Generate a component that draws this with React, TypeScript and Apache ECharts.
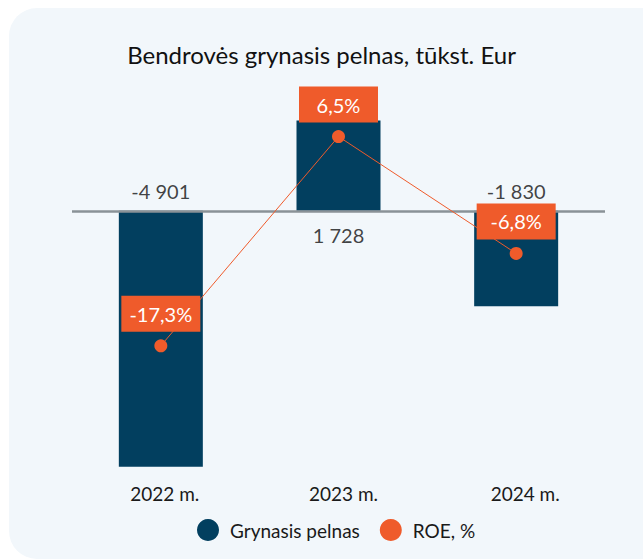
import React, { useEffect, useRef } from "react";
import * as echarts from "echarts";

const categories = ["2022 m.", "2023 m.", "2024 m."];
const netProfit = [-4901, 1728, -1830];
const roe = [-17.3, 6.5, -6.8];
const titleText = "Bendrovės grynasis pelnas, tūkst. Eur";
const seriesNames = ["Grynasis pelnas", "ROE, %"];

const NAVY = "#023f5f";
const ORANGE = "#ef5b2b";
const FONT = "Lato, 'Noto Sans', sans-serif";

function fmtThousands(v: number): string {
  const s = Math.abs(Math.round(v)).toString().replace(/\B(?=(\d{3})+(?!\d))/g, " ");
  return (v < 0 ? "-" : "") + s;
}

const labelShift = [8, 10, 18];
const rich: Record<string, any> = {};
labelShift.forEach((s, i) => {
  rich["c" + i] = { fontFamily: FONT, fontSize: 19, color: "#1a1a1a", padding: [0, 0, 0, s] };
});

export default function App() {
  const ref = useRef<HTMLDivElement>(null);
  useEffect(() => {
    if (!ref.current) return;
    const chart = echarts.init(ref.current, null, { renderer: "svg" });
    chart.setOption({
      animation: false,
      backgroundColor: "transparent",
      textStyle: { fontFamily: FONT },
      title: {
        text: titleText,
        left: "center",
        top: 37,
        textStyle: { fontFamily: FONT, fontSize: 24, fontWeight: "normal", color: "#111111" },
      },
      legend: {
        data: seriesNames,
        bottom: 14,
        left: 192,
        icon: "circle",
        itemWidth: 22,
        itemHeight: 22,
        itemGap: 20,
        textStyle: { fontFamily: FONT, fontSize: 19, color: "#1a1a1a", padding: [0, 0, 0, 6] },
      },
      grid: { left: 72, right: 38, top: 54, bottom: 88 },
      xAxis: {
        type: "category",
        data: categories,
        axisLine: { show: false, onZero: false },
        axisTick: { show: false },
        axisLabel: {
          fontFamily: FONT,
          fontSize: 19,
          color: "#1a1a1a",
          margin: 12,
          formatter: (v: string, i: number) => `{c${i}|${v}}`,
          rich,
        },
      },
      yAxis: [
        { type: "value", min: -5000, max: 3000, show: false, splitLine: { show: false } },
        { type: "value", min: -31.66, max: 15.89, show: false, splitLine: { show: false } },
      ],
      series: [
        {
          name: seriesNames[0],
          type: "bar",
          data: netProfit,
          barWidth: 84,
          yAxisIndex: 0,
          itemStyle: { color: NAVY },
          markLine: {
            silent: true,
            symbol: "none",
            label: { show: false },
            lineStyle: { color: "#8a9297", width: 2.5, type: "solid" },
            data: [{ yAxis: 0 }],
          },
        },
        {
          name: "barLabels",
          type: "scatter",
          yAxisIndex: 0,
          symbolSize: 1,
          itemStyle: { color: "transparent" },
          z: 5,
          data: netProfit.map((v, i) => ({
            value: [categories[i], 0],
            label: {
              show: true,
              position: v < 0 ? "top" : "bottom",
              distance: v < 0 ? 9 : 14,
              formatter: () => fmtThousands(v),
              fontFamily: FONT,
              fontSize: 20,
              color: "#111111",
            },
          })),
        },
        {
          name: seriesNames[1],
          type: "line",
          yAxisIndex: 1,
          data: roe,
          symbol: "circle",
          symbolSize: 13,
          lineStyle: { color: ORANGE, width: 1 },
          itemStyle: { color: ORANGE },
          z: 6,
          label: {
            show: true,
            position: "top",
            distance: 7.5,
            formatter: (p: any) => p.value.toFixed(1).replace(".", ",") + "%",
            backgroundColor: ORANGE,
            color: "#ffffff",
            fontFamily: FONT,
            fontSize: 20,
            width: 79,
            height: 36,
            lineHeight: 36,
            align: "center",
            padding: 0,
          },
        },
      ],
    });
    return () => chart.dispose();
  }, []);

  return (
    <div style={{ position: "fixed", left: 0, top: 0, width: 643, height: 560, background: "#ffffff", overflow: "hidden" }}>
      <div
        style={{
          position: "absolute",
          left: 9,
          top: 8,
          width: 680,
          height: 551,
          borderRadius: 28,
          background: "#f2f7fb",
        }}
      />
      <div ref={ref} style={{ position: "absolute", left: 0, top: 0, width: 643, height: 560 }} />
    </div>
  );
}
